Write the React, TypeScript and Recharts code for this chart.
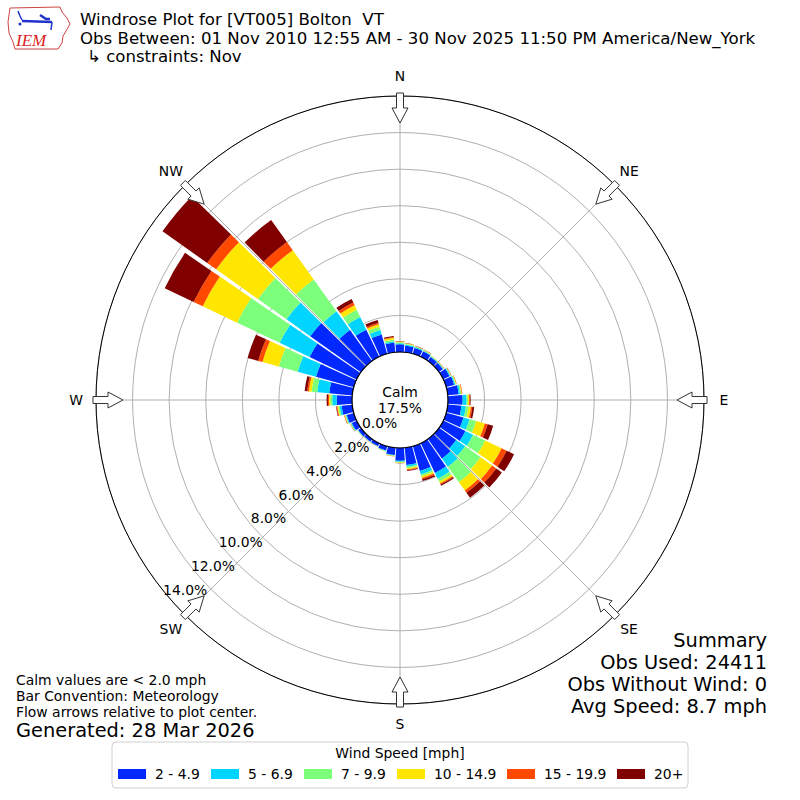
import React from "react";
import {
  RadialBarChart,
  RadialBar,
  PolarGrid,
  PolarAngleAxis,
  PolarRadiusAxis,
} from "recharts";

// direction bins, degrees from north (bar convention: meteorology)
const directions = [
  0, 10, 20, 30, 40, 50, 60, 70, 80, 90, 100, 110, 120, 130, 140, 150, 160, 170,
  180, 190, 200, 210, 220, 230, 240, 250, 260, 270, 280, 290, 300, 310, 320, 330, 340, 350,
];

const speedBins = ["2 - 4.9", "5 - 6.9", "7 - 9.9", "10 - 14.9", "15 - 19.9", "20+"];
const binColors = ["#0028ff", "#00d4ff", "#7cff7a", "#ffe600", "#ff4800", "#800000"];

// frequency (%) per direction for each speed bin
const speed2to5 = [
  0.42, 0.36, 0.33, 0.32, 0.26, 0.26, 0.38, 0.45, 0.6, 0.8, 0.75, 0.98, 1.34, 1.15, 1.32, 1.8, 1.41, 0.95,
  0.7, 0.4, 0.24, 0.17, 0.17, 0.19, 0.3, 0.4, 0.58, 0.84, 1.26, 2.14, 2.85, 3.4, 2.08, 1.64, 1.1, 0.52,
];
const speed5to7 = [
  0.06, 0.05, 0.05, 0.04, 0.04, 0.04, 0.05, 0.06, 0.08, 0.22, 0.24, 0.34, 0.46, 0.6, 0.55, 0.35, 0.19, 0.09,
  0.05, 0.03, 0.03, 0.02, 0.02, 0.03, 0.04, 0.05, 0.11, 0.24, 0.66, 1.04, 1.81, 1.59, 1.26, 0.77, 0.25, 0.09,
];
const speed7to10 = [
  0.05, 0.04, 0.03, 0.03, 0.02, 0.02, 0.03, 0.04, 0.05, 0.07, 0.15, 0.38, 0.74, 1.04, 1.04, 0.17, 0.1, 0.08,
  0.04, 0.02, 0.02, 0.015, 0.015, 0.015, 0.03, 0.04, 0.08, 0.11, 0.31, 1.07, 2.58, 1.92, 2.14, 0.44, 0.19, 0.09,
];
const speed10to15 = [
  0.04, 0.03, 0.02, 0.02, 0.02, 0.02, 0.02, 0.03, 0.04, 0.07, 0.13, 0.49, 0.99, 0.77, 0.55, 0.12, 0.1, 0.07,
  0.03, 0.02, 0.01, 0.01, 0.01, 0.01, 0.02, 0.03, 0.05, 0.07, 0.15, 0.93, 2.08, 2.8, 1.97, 0.27, 0.14, 0.09,
];
const speed15to20 = [
  0.02, 0.01, 0.01, 0.01, 0.005, 0.005, 0.01, 0.01, 0.02, 0.04, 0.08, 0.16, 0.3, 0.27, 0.16, 0.06, 0.08, 0.04,
  0.005, 0.005, 0, 0.005, 0.005, 0.005, 0.005, 0.02, 0.04, 0.06, 0.09, 0.24, 0.55, 0.6, 0.55, 0.16, 0.08, 0.05,
];
const speed20plus = [
  0.01, 0.01, 0.01, 0.01, 0.005, 0.005, 0.01, 0.01, 0.01, 0.04, 0.1, 0.31, 0.45, 0.38, 0.33, 0.08, 0.1, 0.04,
  0.005, 0.005, 0, 0, 0, 0, 0.005, 0.01, 0.03, 0.07, 0.14, 0.6, 1.75, 3.0, 1.48, 0.22, 0.16, 0.05,
];

const radiusTicks = [0, 2, 4, 6, 8, 10, 12, 14];
const compassTicks = [0, 45, 90, 135, 180, 225, 270, 315];
const compassLabels = ["N", "NE", "E", "SE", "S", "SW", "W", "NW"];

const calmPct = "17.5%";
const summaryLines = ["Summary", "Obs Used: 24411", "Obs Without Wind: 0", "Avg Speed: 8.7 mph"];
const noteLines = ["Calm values are < 2.0 mph", "Bar Convention: Meteorology", "Flow arrows relative to plot center."];

const seriesKeys = ["s1", "s2", "s3", "s4", "s5", "s6"];
const seriesValues = [speed2to5, speed5to7, speed7to10, speed10to15, speed15to20, speed20plus];

const rows = directions.map((d, i) => {
  const row: Record<string, string | number> = { dir: String(d) };
  seriesKeys.forEach((k, j) => {
    row[k] = seriesValues[j][i];
  });
  return row;
});

const CX = 400;
const CY = 400;
const R_IN = 48;
const R_OUT = 304;
const FONT = "DejaVu Sans, sans-serif";

// recharts measures angles counter-clockwise from 3 o'clock
const gridAngles = compassTicks.map((d) => 90 - d);

function CompassMark({ deg, label }: { deg: number; label: string }) {
  const a = (deg * Math.PI) / 180;
  const ux = Math.sin(a);
  const uy = -Math.cos(a);
  const px = -uy;
  const py = ux;
  const pt = (t: number, w: number) => `${CX + ux * t + px * w},${CY + uy * t + py * w}`;
  const arrow = [
    pt(277, 0),
    pt(292, 8),
    pt(292, 3.5),
    pt(307, 3.5),
    pt(307, -3.5),
    pt(292, -3.5),
    pt(292, -8),
  ].join(" ");
  return (
    <g>
      <polygon points={arrow} fill="#fff" stroke="#333" strokeWidth={1} />
      <text
        x={CX + ux * 324}
        y={CY + uy * 324}
        textAnchor="middle"
        dominantBaseline="central"
        fontSize={13.9}
        fill="#000"
      >
        {label}
      </text>
    </g>
  );
}

function RadiusTick(props: any) {
  const { x, y, payload } = props;
  return (
    <text
      x={x + 16}
      y={y - 8}
      textAnchor="middle"
      dominantBaseline="central"
      fontSize={13.9}
      fontFamily={FONT}
      fill="#000"
    >
      {`${Number(payload.value).toFixed(1)}%`}
    </text>
  );
}

function Logo() {
  return (
    <g>
      <path
        d="M10,8 L60,7 L62,12 L67,18 L70,24 L66,31 L63,36 L62,43 L58,49 L15,49 L13,42 L9,33 L8,22 Z"
        fill="#fff"
        stroke="#c44"
        strokeWidth={1}
      />
      <path d="M18,11 L20,16 L22,20" stroke="#2233cc" strokeWidth={1.5} fill="none" />
      <path d="M22,21 L52,22" stroke="#2233cc" strokeWidth={2.5} fill="none" />
      <path d="M40,15 L46,19 L50,19" stroke="#2233cc" strokeWidth={2.5} fill="none" />
      <path d="M52,22 L51,30" stroke="#2233cc" strokeWidth={1.5} fill="none" />
      <circle cx={20} cy={24} r={1.5} fill="#2233cc" />
      <text x={16} y={46} fontSize={17} fontStyle="italic" fontFamily="Liberation Serif, serif" fill="#d22">
        IEM
      </text>
    </g>
  );
}

export default function App() {
  return (
    <div
      style={{
        position: "absolute",
        left: 0,
        top: 0,
        width: 800,
        height: 800,
        background: "#fff",
        fontFamily: FONT,
      }}
    >
      {/* back layer: calm disc and page texts */}
      <svg width={800} height={800} style={{ position: "absolute", left: 0, top: 0 }} fontFamily={FONT}>
        <circle cx={CX} cy={CY} r={R_IN} fill="#fff" />
        <text x={CX} y={CY - 8} textAnchor="middle" dominantBaseline="central" fontSize={13.9}>
          Calm
        </text>
        <text x={CX} y={CY + 8} textAnchor="middle" dominantBaseline="central" fontSize={13.9}>
          {calmPct}
        </text>

        <Logo />
        <text x={80} y={19} dominantBaseline="central" fontSize={16.6} style={{ whiteSpace: "pre" }}>
          {"Windrose Plot for [VT005] Bolton  VT"}
        </text>
        <text x={80} y={38} dominantBaseline="central" fontSize={16.6}>
          Obs Between: 01 Nov 2010 12:55 AM - 30 Nov 2025 11:50 PM America/New_York
        </text>
        <text x={87} y={56} dominantBaseline="central" fontSize={16.6}>
          ↳ constraints: Nov
        </text>

        {noteLines.map((t, i) => (
          <text key={t} x={16} y={680 + i * 16} dominantBaseline="central" fontSize={13.9}>
            {t}
          </text>
        ))}
        <text x={16} y={730} dominantBaseline="central" fontSize={19.4}>
          Generated: 28 Mar 2026
        </text>

        {summaryLines.map((t, i) => (
          <text key={t} x={767} y={640 + i * 22} textAnchor="end" dominantBaseline="central" fontSize={19.4}>
            {t}
          </text>
        ))}

        <rect x={112} y={742} width={576} height={46} rx={4} fill="#fff" stroke="#d0d0d0" />
        <text x={400} y={753} textAnchor="middle" dominantBaseline="central" fontSize={13.9}>
          Wind Speed [mph]
        </text>
        {speedBins.map((b, i) => {
          const sx = [118, 211, 304, 397, 507, 617][i];
          return (
            <g key={b}>
              <rect x={sx} y={769} width={28} height={10} fill={binColors[i]} />
              <text x={sx + 37} y={774} dominantBaseline="central" fontSize={13.9}>
                {b}
              </text>
            </g>
          );
        })}
      </svg>

      <div style={{ position: "absolute", left: 0, top: 0 }}>
        <RadialBarChart
          width={800}
          height={800}
          cx={CX}
          cy={CY}
          innerRadius={R_IN}
          outerRadius={R_OUT}
          startAngle={85}
          endAngle={-275}
          layout="centric"
          data={rows}
          barCategoryGap="6%"
          margin={{ top: 0, right: 0, bottom: 0, left: 0 }}
        >
          <PolarAngleAxis
            type="category"
            dataKey="dir"
            tick={false}
            tickLine={false}
            axisLineType="circle"
            stroke="#000"
          />
          <PolarRadiusAxis
            type="number"
            domain={[0, 14]}
            ticks={radiusTicks}
            allowDataOverflow
            angle={220.6}
            axisLine={false}
            tickLine={false}
            tick={(p: any) => <RadiusTick {...p} />}
          />
          {seriesKeys.map((k, j) => (
            <RadialBar
              key={k}
              dataKey={k}
              name={speedBins[j]}
              stackId="wind"
              fill={binColors[j]}
              isAnimationActive={false}
            />
          ))}
          {/* grid sits above the bars, as in the matplotlib original */}
          <PolarGrid gridType="circle" polarAngles={gridAngles} stroke="#b0b0b0" strokeWidth={1} zIndex={100} />
        </RadialBarChart>
      </div>

      {/* front layer: calm circle edge and flow arrows */}
      <svg
        width={800}
        height={800}
        style={{ position: "absolute", left: 0, top: 0, pointerEvents: "none" }}
        fontFamily={FONT}
      >
        <circle cx={CX} cy={CY} r={R_IN} fill="none" stroke="#000" strokeWidth={1.2} />
        {compassTicks.map((d, i) => (
          <CompassMark key={d} deg={d} label={compassLabels[i]} />
        ))}
      </svg>
    </div>
  );
}
